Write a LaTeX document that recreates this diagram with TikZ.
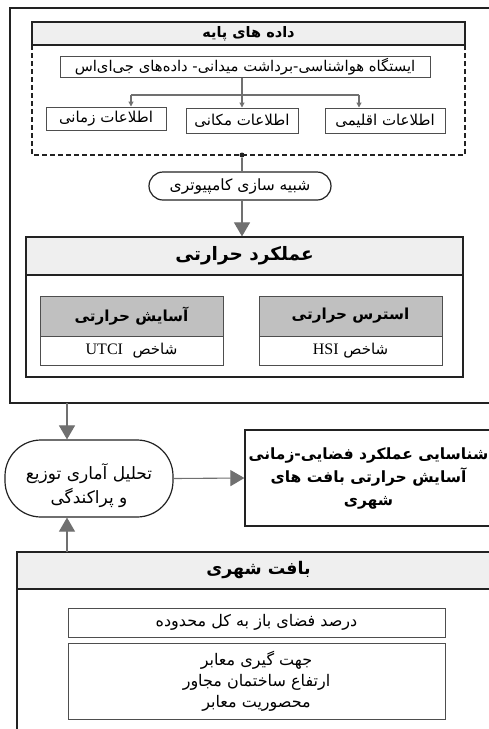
\documentclass[tikz,border=0pt]{standalone}
\usepackage{fontspec}
\setmainfont{Liberation Serif}
\newfontfamily\arabicfont[Script=Arabic]{DejaVu Sans}
\TeXXeTstate=1
\usetikzlibrary{arrows.meta}
\newcommand{\fa}[1]{{\arabicfont\beginR #1\endR}}
\definecolor{hdrlight}{HTML}{EFEFEF}
\definecolor{hdrdark}{HTML}{C0C0C0}
\definecolor{linegray}{HTML}{707070}
\definecolor{frame}{HTML}{222222}
\begin{document}
\begin{tikzpicture}[x=1pt,y=-1pt,
  bx/.style={draw=frame, line width=1.2pt, inner sep=0pt, align=center},
  thinbx/.style={draw=frame!80, line width=1pt, inner sep=0pt, align=center},
  conn/.style={draw=linegray, line width=1.1pt},
  bigarrow/.style={conn, -{Triangle[width=16pt,length=14pt]}, shorten >=0pt},
  smallarrow/.style={conn, -{Triangle[width=5pt,length=5pt]}},
  txt/.style={font=\fontsize{15}{18}\selectfont},
  btxt/.style={font=\fontsize{15.2}{18}\selectfont\bfseries},
]
\useasboundingbox (0,0) rectangle (489,729);
\clip (0,0) rectangle (489,729);
\fill[white] (0,0) rectangle (489,729);

% outer top frame
\draw[frame, line width=1.2pt] (10,8) rectangle (505,403);

% base data
\node[bx, fill=hdrlight, minimum width=433pt, minimum height=23pt, font=\fontsize{14.5}{17}\selectfont\bfseries] (hdr1) at (248.5,33.5) {\fa{داده های پایه}};
\draw[frame, line width=1.1pt, dashed, dash pattern=on 5pt off 3pt] (32,45) -- (32,155) -- (465,155) -- (465,45);
\node[thinbx, minimum width=370pt, minimum height=21pt, font=\fontsize{14.8}{17}\selectfont] (st) at (245,66.5) {\fa{ایستگاه هواشناسی-برداشت میدانی- داده‌های جی‌ای‌اس}};
\node[thinbx, minimum width=120pt, minimum height=23pt, txt] (zaman) at (106,118.5) {\fa{اطلاعات زمانی}};
\node[thinbx, minimum width=112pt, minimum height=25pt, txt] (makan) at (242,120.5) {\fa{اطلاعات مکانی}};
\node[thinbx, minimum width=120pt, minimum height=25pt, txt] (eghlim) at (385,120.5) {\fa{اطلاعات اقلیمی}};
\coordinate (bmid) at (242,95);
\coordinate (bl) at (131,95);
\coordinate (br) at (359,95);
\draw[conn] (st.south -| bmid) -- (bmid);
\draw[conn] (bl) -- (br);
\draw[smallarrow] (bl) -- (bl |- zaman.north);
\draw[smallarrow] (bmid) -- (makan.north);
\draw[smallarrow] (br) -- (br |- eghlim.north);

\node[circle, fill=frame, inner sep=0pt, minimum size=5pt] (dot) at (242,155) {};
\node[bx, rounded corners=14pt, minimum width=182pt, minimum height=28pt, font=\fontsize{15.5}{18}\selectfont] (sim) at (240,186) {\fa{شبیه سازی کامپیوتری}};
\draw[conn] (dot) -- (dot |- sim.north);

% thermal performance
\node[bx, minimum width=437pt, minimum height=140pt] (perf) at (244.5,307) {};
\node[bx, fill=hdrlight, minimum width=437pt, minimum height=38pt, font=\fontsize{18.5}{22}\selectfont\bfseries] (perfh) at (244.5,256) {\fa{عملکرد حرارتی}};
\draw[bigarrow] (sim.south -| dot) -- (perfh.north -| dot);

\node[thinbx, fill=hdrdark, minimum width=183pt, minimum height=40pt, btxt] (asayh) at (131.5,316) {\fa{آسایش حرارتی}};
\node[thinbx, minimum width=183pt, minimum height=29pt, txt] (asayb) at (131.5,350.5) {\fa{شاخص\ \ \beginL{\rmfamily\fontsize{16}{18}\selectfont UTCI}\endL}};
\node[thinbx, fill=hdrdark, minimum width=183pt, minimum height=40pt, btxt] (stressh) at (350.5,316) {\fa{استرس حرارتی}};
\node[thinbx, minimum width=183pt, minimum height=29pt, txt] (stressb) at (350.5,350.5) {\fa{شاخص \beginL{\rmfamily\fontsize{16}{18}\selectfont HSI}\endL}};

% analysis
\node[bx, rounded corners=36pt, minimum width=168pt, minimum height=77pt] (anal) at (89,478.5) {};
\node[inner sep=0pt, align=center, font=\fontsize{17}{24}\selectfont] (analtext) at (89,486) {\fa{تحلیل آماری توزیع}\\\fa{و پراکندگی}};
\node[bx, minimum width=247pt, minimum height=96pt, font=\fontsize{15.5}{23}\selectfont\bfseries] (ident) at (368.5,478) {\fa{شناسایی عملکرد فضایی-زمانی}\\\fa{آسایش حرارتی بافت های}\\\fa{شهری}};

\coordinate (topout) at (67,403);
\draw[bigarrow] (topout) -- (topout |- anal.north);
\draw[bigarrow] (anal.east) -- (ident.west);

% urban fabric
\node[bx, minimum width=483pt, minimum height=190pt] (urb) at (258.5,647) {};
\node[bx, fill=hdrlight, minimum width=483pt, minimum height=37pt, font=\fontsize{17.4}{20}\selectfont\bfseries] (urbh) at (258.5,570.5) {\fa{بافت شهری}};
\coordinate (botin) at (67,552);
\draw[bigarrow] (botin) -- (botin |- anal.south);

\node[thinbx, minimum width=377pt, minimum height=29pt, font=\fontsize{16}{18}\selectfont] (dars) at (256.5,622.5) {\fa{درصد فضای باز به کل محدوده}};
\node[thinbx, minimum width=377pt, minimum height=76pt, font=\fontsize{16}{21}\selectfont] (jahat) at (256.5,681) {\fa{جهت گیری معابر}\\\fa{ارتفاع ساختمان مجاور}\\\fa{محصوریت معابر}};
\end{tikzpicture}
\end{document}
